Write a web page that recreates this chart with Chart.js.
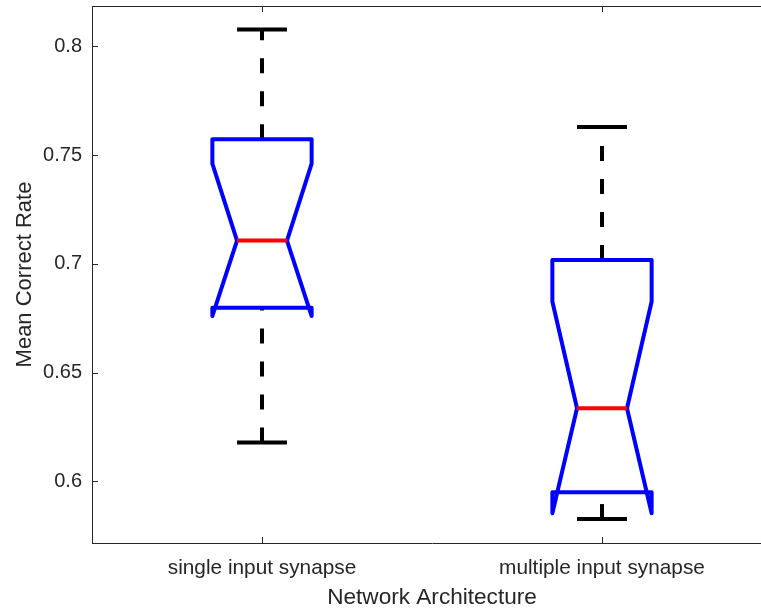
<!DOCTYPE html>
<html>
<head>
<meta charset="utf-8">
<script src="https://cdn.jsdelivr.net/npm/chart.js@4.4.1/dist/chart.umd.min.js"></script>
<style>
  html, body { margin: 0; padding: 0; background: #ffffff; overflow: hidden; }
  #wrap { width: 790px; height: 609px; }
</style>
</head>
<body>
<div id="wrap"><canvas id="c" width="790" height="609"></canvas></div>
<script>
// Box-plot statistics for each network architecture
const categories   = ['single input synapse', 'multiple input synapse'];
const upperWhisker = [0.8078, 0.7629];
const q3           = [0.7573, 0.7018];
const medians      = [0.7107, 0.6336];
const q1           = [0.6798, 0.5949];
const lowerWhisker = [0.6178, 0.5826];
const notchLow     = [0.6760, 0.5853];
const notchHigh    = [0.7461, 0.6827];
const yTicks       = [0.6, 0.65, 0.7, 0.75, 0.8];

// Geometry of the glyphs, in x-axis units
const BOX_HALF = 0.146;
const NOTCH_HALF = 0.0735;
const CAP_HALF = 0.0735;

const INK = '#262626';
const FONT = '"Liberation Sans", Arial, Helvetica, sans-serif';

const datasets = [];
categories.forEach((name, i) => {
  const c = i + 1;
  const L = c - BOX_HALF, R = c + BOX_HALF;
  const nL = c - NOTCH_HALF, nR = c + NOTCH_HALF;

  // whiskers (dashed), drawn from the lower value to the higher one
  datasets.push({
    label: name + ' upper whisker', order: 4,
    data: [{x: c, y: q3[i]}, {x: c, y: upperWhisker[i]}],
    borderColor: '#000000', borderWidth: 4, borderDash: [15, 18], borderCapStyle: 'butt'
  });
  datasets.push({
    label: name + ' lower whisker', order: 4,
    data: [{x: c, y: lowerWhisker[i]}, {x: c, y: q1[i]}],
    borderColor: '#000000', borderWidth: 4, borderDash: [15, 18], borderCapStyle: 'butt'
  });
  // whisker caps
  [upperWhisker[i], lowerWhisker[i]].forEach((v, k) => {
    datasets.push({
      label: name + (k ? ' lower cap' : ' upper cap'), order: 3,
      data: [{x: c - CAP_HALF, y: v}, {x: c + CAP_HALF, y: v}],
      borderColor: '#000000', borderWidth: 4, borderCapStyle: 'butt'
    });
  });
  // notched box outline
  datasets.push({
    label: name + ' box', order: 2,
    data: [
      {x: c, y: q3[i]}, {x: L, y: q3[i]}, {x: L, y: notchHigh[i]},
      {x: nL, y: medians[i]}, {x: L, y: notchLow[i]}, {x: L, y: q1[i]},
      {x: R, y: q1[i]}, {x: R, y: notchLow[i]}, {x: nR, y: medians[i]},
      {x: R, y: notchHigh[i]}, {x: R, y: q3[i]}, {x: c, y: q3[i]}
    ],
    borderColor: '#0000ff', borderWidth: 4, borderJoinStyle: 'round', borderCapStyle: 'round'
  });
  // median
  datasets.push({
    label: name + ' median', order: 1,
    data: [{x: nL, y: medians[i]}, {x: nR, y: medians[i]}],
    borderColor: '#ff0000', borderWidth: 4, borderCapStyle: 'butt'
  });
});
datasets.forEach(d => {
  d.showLine = true; d.fill = false; d.pointRadius = 0; d.pointHoverRadius = 0;
  d.tension = 0; d.clip = false;
});

// Inward tick marks and the upper frame line
const frame = {
  id: 'frame',
  afterDatasetsDraw(chart) {
    const {ctx, chartArea: a, scales} = chart;
    const len = 6;
    ctx.save();
    ctx.strokeStyle = INK;
    ctx.lineWidth = 1;
    ctx.beginPath();
    ctx.moveTo(a.left, Math.round(a.top) + 0.5);
    ctx.lineTo(a.right, Math.round(a.top) + 0.5);
    scales.y.ticks.forEach(t => {
      const y = Math.round(scales.y.getPixelForValue(t.value)) + 0.5;
      ctx.moveTo(a.left, y); ctx.lineTo(a.left + len, y);
    });
    scales.x.ticks.forEach(t => {
      const x = Math.round(scales.x.getPixelForValue(t.value)) + 0.5;
      ctx.moveTo(x, a.bottom); ctx.lineTo(x, a.bottom - len);
      ctx.moveTo(x, a.top); ctx.lineTo(x, a.top + len);
    });
    ctx.stroke();
    ctx.restore();
  }
};

new Chart(document.getElementById('c'), {
  type: 'scatter',
  data: { datasets },
  plugins: [frame],
  options: {
    responsive: false,
    animation: false,
    events: [],
    layout: { padding: { top: 6, right: 18, left: 0, bottom: 0 } },
    plugins: { legend: { display: false }, tooltip: { enabled: false } },
    scales: {
      x: {
        type: 'linear', min: 0.5, max: 2.5,
        afterBuildTicks(s) { s.ticks = categories.map((_, i) => ({ value: i + 1 })); },
        afterFit(s) { s.height = 66; s.paddingLeft = 0; s.paddingRight = 0; },
        ticks: {
          callback: v => categories[Math.round(v) - 1] || '',
          color: INK, font: { family: FONT, size: 20.8 }, padding: 13, maxRotation: 0, autoSkip: false
        },
        grid: { drawOnChartArea: false, drawTicks: false },
        border: { display: true, color: INK, width: 1 },
        title: { display: true, text: 'Network Architecture', color: INK,
                 font: { family: FONT, size: 22.6, lineHeight: 1 }, padding: { top: 0, bottom: -0.5 } }
      },
      y: {
        type: 'linear', min: 0.5716, max: 0.8186,
        afterBuildTicks(s) { s.ticks = yTicks.map(v => ({ value: v })); },
        afterFit(s) { s.width = 92; s.paddingTop = 0; s.paddingBottom = 0; },
        ticks: {
          callback: (v, idx) => String(yTicks[idx]),
          color: INK, font: { family: FONT, size: 20 }, padding: 10
        },
        grid: { drawOnChartArea: false, drawTicks: false },
        border: { display: true, color: INK, width: 1 },
        title: { display: true, text: 'Mean Correct Rate', color: INK,
                 font: { family: FONT, size: 22 }, padding: { top: 11.5, bottom: 0 } }
      }
    }
  }
});
</script>
</body>
</html>
